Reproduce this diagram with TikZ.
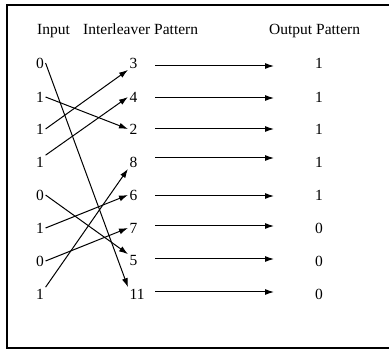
\documentclass[tikz,border=0pt]{standalone}
\usepackage{fontspec}
\setmainfont{Liberation Serif}
\usetikzlibrary{arrows.meta}
\begin{document}
\begin{tikzpicture}[x=1pt,y=-1pt,
  every node/.style={font=\fontsize{15.5}{18}\selectfont},
  header/.style={anchor=base west,inner sep=0},
  indigit/.style={inner sep=1.5pt},
  ildigit/.style={anchor=west,inner sep=1.5pt},
  outdigit/.style={inner sep=1.5pt},
  link/.style={line width=1pt,-{Latex[length=9pt,width=6pt]}}]
\useasboundingbox (0,0) rectangle (389,350);
% frame (open on the right)
\draw[line width=2pt] (390,5) -- (7,5) -- (7,348.3) -- (390,348.3);

% column headings
\node[header] (hin)  at (37,35)  {Input};
\node[header] (hil)  at (83,35)  {Interleaver Pattern};
\node[header] (hout) at (269,35) {Output Pattern};

% input bits
\foreach \n/\v/\y in {1/0/63,2/1/97,3/1/129,4/1/162,5/0/195,6/1/228,7/0/261,8/1/294}
  \node[indigit] (in\n) at (40,\y) {\v};

% interleaver pattern
\foreach \n/\v/\y in {1/3/63,2/4/97,3/2/129,4/8/162,5/6/195,6/7/228,7/5/261,8/11/294}
  \node[ildigit] (il\n) at (128,\y) {\v};

% output bits
\foreach \n/\v/\y in {1/1/63,2/1/97,3/1/129,4/1/162,5/1/195,6/0/228,7/0/261,8/0/294}
  \node[outdigit] (out\n) at (319,\y) {\v};

% interleaving connections
\draw[link] (in1.east) -- (il8.north west);
\draw[link] (in2.east) -- (il3.west);
\draw[link] (in3.east) -- (il1.south west);
\draw[link] (in4.north east) -- (il2.west);
\draw[link] (in5.east) -- (il7.north west);
\draw[link] (in6.east) -- (il5.west);
\draw[link] (in7.east) -- (il6.west);
\draw[link] (in8.north east) -- (il4.south west);

% mapping arrows to the output column
\foreach \n/\y in {1/66,2/98,3/129,4/158,5/196,6/226,7/259,8/292} {
  \coordinate (s\n) at (155,\y);
  \coordinate (e\n) at (274,\y);
  \draw[link] (s\n) -- (e\n);
}
\end{tikzpicture}
\end{document}
